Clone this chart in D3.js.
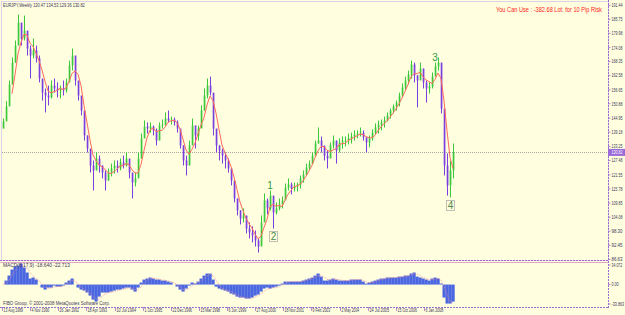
<!DOCTYPE html>
<html>
<head>
<meta charset="utf-8">
<script src="https://cdn.jsdelivr.net/npm/d3@7.9.0/dist/d3.min.js"></script>
<style>
  html, body { margin: 0; padding: 0; background: #ffffe0; }
  svg { display: block; font-family: "Liberation Sans", Arial, sans-serif; }
</style>
</head>
<body>
<svg id="chart" width="625" height="315"></svg>
<script>
// EURJPY weekly (one entry ~ every 7 weeks)
const highs = [144.8,152.0,160.5,170.0,177.0,187.7,183.2,187.3,179.1,174.9,
  177.8,174.9,170.8,160.5,157.2,158.4,160.5,161.3,159.7,158.4,
  160.5,161.3,168.7,173.7,166.7,158.4,153.1,146.1,137.8,131.6,
  127.5,130.8,129.5,125.4,123.4,124.2,126.2,127.5,127.5,128.3,
  129.5,130.8,127.5,121.3,122.5,130.8,138.6,144.0,143.2,143.2,
  141.9,140.7,143.2,144.4,147.3,148.1,145.6,145.2,144.0,139.0,
  133.7,129.5,135.7,144.8,141.9,141.9,150.2,157.2,161.3,162.1,
  150.2,137.8,133.7,132.4,130.8,128.3,124.2,118.0,111.8,106.9,
  107.7,103.5,101.9,100.3,98.6,95.3,104.8,113.9,111.8,115.1,
  108.9,110.2,111.8,112.6,118.0,120.1,118.4,118.4,118.4,121.3,
  123.4,126.2,127.5,130.8,135.7,141.1,137.4,133.7,131.6,134.9,
  137.8,135.7,136.6,137.4,137.4,138.6,139.0,139.9,139.9,141.1,
  139.9,137.0,137.8,140.3,142.8,144.0,144.4,145.6,147.3,148.9,
  150.6,152.2,155.5,159.3,162.1,164.6,168.7,167.9,162.6,167.9,
  165.4,160.5,159.7,163.8,167.9,170.0,166.3,148.1,130.4,127.5,
  134.5];
const lows = [140.7,144.8,152.2,161.3,167.9,177.0,174.9,177.0,170.8,161.3,
  169.6,167.9,159.7,152.2,147.3,150.2,153.1,155.5,153.5,153.1,
  154.3,155.5,160.5,164.6,158.4,152.2,146.1,135.7,130.8,122.5,
  115.1,123.4,122.5,120.1,115.1,119.2,120.9,122.1,122.5,123.4,
  124.2,125.0,120.1,111.8,116.8,122.5,130.8,137.8,138.6,139.0,
  137.8,133.7,139.0,140.7,141.9,143.2,142.3,141.9,139.0,132.4,
  125.4,121.3,128.3,135.7,132.4,135.7,141.9,148.1,153.1,154.3,
  137.8,130.8,127.5,126.2,124.2,122.5,117.2,110.2,104.8,101.1,
  101.9,97.4,95.3,93.7,92.0,89.5,93.7,104.8,105.2,106.9,
  99.4,105.2,106.9,107.7,111.8,115.1,113.5,114.7,114.7,115.9,
  118.4,121.3,123.4,126.2,129.5,134.5,130.8,127.5,124.2,129.5,
  132.4,126.2,130.8,132.4,133.3,134.1,134.5,135.7,136.6,137.4,
  135.7,130.8,132.9,135.7,138.2,138.6,139.9,141.1,143.6,144.8,
  146.9,148.1,149.8,153.5,156.4,158.8,161.3,159.7,149.4,161.3,
  157.2,151.4,155.1,157.2,162.6,164.6,146.9,121.3,113.0,112.2,
  120.1];
const closes = [143.6,149.8,158.8,167.9,174.9,184.4,177.8,181.1,173.7,170.8,
  172.9,169.6,161.3,155.5,154.3,153.5,158.4,157.2,156.4,157.2,
  156.4,159.7,166.7,170.8,160.5,154.3,148.1,137.8,132.4,125.4,
  123.4,128.3,125.4,122.5,119.2,122.5,124.2,125.4,124.2,126.7,
  125.4,128.3,122.5,118.4,120.1,128.3,136.6,141.5,140.7,141.5,
  139.9,135.7,141.9,142.3,144.8,144.0,144.4,143.2,140.7,133.7,
  127.5,125.4,133.7,141.9,137.8,140.7,148.1,154.3,158.4,155.5,
  140.7,133.7,131.6,129.5,127.5,124.2,119.2,111.8,106.9,103.5,
  104.8,99.4,97.8,96.5,94.5,92.0,101.9,111.0,107.7,113.0,
  106.0,107.7,109.3,111.0,116.3,117.6,115.9,116.8,117.6,120.1,
  121.7,124.6,126.2,129.5,134.5,135.7,133.3,129.5,128.3,133.7,
  135.7,131.6,134.9,135.7,135.7,136.6,137.4,138.2,138.6,139.0,
  137.0,134.9,136.6,139.0,141.1,142.3,143.2,144.0,146.1,148.1,
  149.8,151.4,154.3,157.6,160.5,163.0,167.1,162.6,160.5,165.4,
  159.7,157.2,158.0,162.1,166.3,167.9,148.9,125.4,117.2,123.4,
  130.82];
const macdValues = [0,6.3,14.2,23.7,28.4,30.0,33.2,26.9,19.0,9.5,
  11.1,7.9,0,-4.7,-7.9,-4.7,-4.7,-1.6,-3.2,-3.2,
  -1.6,3.2,6.3,9.5,0,-4.7,-7.9,-9.5,-12.6,-17.4,
  -23.7,-26.9,-19.0,-12.6,-12.6,-12.6,-11.1,-9.5,-7.9,-7.9,
  -6.3,-4.7,-4.7,-7.9,-11.1,-4.7,3.2,7.9,9.5,11.1,
  9.5,7.9,7.9,6.3,6.3,4.7,3.2,0,-3.2,-7.9,
  -11.1,-6.3,-1.6,3.2,1.6,4.7,9.5,14.2,17.4,17.4,
  7.9,-3.2,-6.3,-7.9,-9.5,-11.1,-14.2,-15.8,-19.0,-20.5,
  -20.5,-22.1,-22.1,-20.5,-17.4,-15.8,-11.1,-6.3,-4.7,-6.3,
  -4.7,-3.2,-1.6,1.6,4.7,4.7,4.7,4.7,4.7,4.7,
  6.3,7.9,9.5,11.1,14.2,17.4,12.6,6.3,6.3,7.9,
  9.5,7.9,6.3,6.3,6.3,6.3,7.9,7.9,7.9,7.9,
  4.7,1.6,3.2,4.7,6.3,7.9,9.5,9.5,11.1,11.1,
  11.1,11.1,12.6,12.6,14.2,14.2,17.4,19.0,12.6,11.1,
  9.5,7.9,6.3,9.5,11.1,9.5,1.6,-20.5,-30.0,-30.0,
  -26.9];

const priceTicks = [191.44,185.75,179.98,174.08,168.35,162.58,156.65,150.88,144.95,139.18,
  133.25,127.48,121.55,115.78,109.85,104.08,98.30,92.45,86.63];
const macdTicks = [34.072, 0, -33.863];
const dateTicks = ["1989-08-13","1990-11-04","1992-01-26","1993-04-18","1994-07-10","1995-10-01",
  "1996-12-22","1998-03-15","1999-06-06","2000-08-27","2001-11-18","2003-02-09","2004-05-02",
  "2005-07-24","2006-10-15","2008-01-06"];
const lastPrice = 130.82;
const waveNames = ["1", "2", "3", "4"];
const waveBars = [89, 90, 144, 149];
const waveBoxed = [false, true, false, true];

const svg = d3.select('#chart');
const purple = '#9b6fd0';
const textCol = '#3c3458';

const x = d3.scaleLinear().domain([0, closes.length - 1]).range([3, 453]);
const y = d3.scaleLinear().domain([86.63, 191.44]).range([259.5, 5.5]);
const yM = d3.scaleLinear().domain([-33.863, 34.072]).range([306, 263]);
const xDate = d3.scaleTime().domain([new Date(1989, 7, 13), new Date(2008, 0, 6)]).range([3, 425]);
const parse = d3.timeParse('%Y-%m-%d');
const fmt = d3.timeFormat('%-d %b %Y');

// small squeezed text: squeeze horizontally so it takes 'width' pixels
function tinyText(parent, str, tx, ty, width, size, color) {
  const t = parent.append('text').attr('font-size', size).attr('fill', color)
    .attr('dy', '0.35em').text(str);
  const len = t.node().getComputedTextLength();
  t.attr('transform', `translate(${tx},${ty}) scale(${width / len},1)`);
  return t;
}

svg.append('rect').attr('width', 625).attr('height', 315).attr('fill', '#ffffe0');

// window frames
svg.append('rect').attr('x', 1.5).attr('y', 1.5).attr('width', 607).attr('height', 259)
  .attr('fill', 'none').attr('stroke', '#dcd0ea');
svg.append('line').attr('x1', 0).attr('x2', 609).attr('y1', 260.5).attr('y2', 260.5)
  .attr('stroke', purple).attr('stroke-dasharray', '2,1');
svg.append('line').attr('x1', 0).attr('x2', 609).attr('y1', 262.5).attr('y2', 262.5)
  .attr('stroke', '#e0a8c8');
svg.append('line').attr('x1', 0).attr('x2', 609).attr('y1', 307.5).attr('y2', 307.5)
  .attr('stroke', purple).attr('stroke-dasharray', '2,1');
svg.append('line').attr('x1', 608.5).attr('x2', 608.5).attr('y1', 0).attr('y2', 308)
  .attr('stroke', purple).attr('stroke-dasharray', '2,1');

// current price line
svg.append('line').attr('x1', 2).attr('x2', 608).attr('y1', Math.round(y(lastPrice)) + 0.5)
  .attr('y2', Math.round(y(lastPrice)) + 0.5)
  .attr('stroke', '#a8a8a0').attr('stroke-dasharray', '1,1');

// candles
const bars = closes.map((c, i) => ({
  i, c, h: highs[i], l: lows[i], o: i === 0 ? lows[0] : closes[i - 1]
}));
const upCol = '#3cc83c', downCol = '#7b3fe0';
const gBars = svg.append('g');
gBars.selectAll('line').data(bars).join('line')
  .attr('x1', d => x(d.i) + 0.5).attr('x2', d => x(d.i) + 0.5)
  .attr('y1', d => y(d.h)).attr('y2', d => y(d.l))
  .attr('stroke', d => d.c >= d.o ? upCol : downCol).attr('stroke-width', 1);
gBars.selectAll('rect').data(bars).join('rect')
  .attr('x', d => x(d.i) - 0.3).attr('width', 1.7)
  .attr('y', d => y(Math.max(d.o, d.c)))
  .attr('height', d => Math.max(1, Math.abs(y(d.o) - y(d.c))))
  .attr('fill', d => d.c >= d.o ? upCol : downCol);

// moving average of closes
const period = 4;
const ma = closes.map((c, i) => i < period - 1 ? null : d3.mean(closes.slice(i - period + 1, i + 1)));
svg.append('path')
  .attr('d', d3.line().defined(d => d != null).x((d, i) => x(i)).y(d => y(d))(ma))
  .attr('fill', 'none').attr('stroke', '#ff6a5a').attr('stroke-width', 1);

// wave labels
waveNames.forEach((name, k) => {
  const b = waveBars[k];
  const cx = x(b);
  if (waveBoxed[k]) {
    const top = y(lows[b]) + 3;
    svg.append('rect').attr('x', cx - 3.5).attr('y', top).attr('width', 8).attr('height', 10)
      .attr('fill', '#ffffe0').attr('stroke', '#b0b0a8').attr('stroke-width', 0.8);
    svg.append('text').attr('x', cx + 0.5).attr('y', top + 8.5).attr('text-anchor', 'middle')
      .attr('font-size', 10).attr('fill', '#4a8a4a').text(name);
  } else {
    svg.append('text').attr('x', cx).attr('y', y(highs[b]) - 2).attr('text-anchor', 'middle')
      .attr('font-size', 10).attr('fill', '#2f9a3f').text(name);
  }
});

// MACD histogram + signal
const yZero = yM(0);
svg.append('g').selectAll('rect').data(macdValues).join('rect')
  .attr('x', (d, i) => x(i) - 1.5).attr('width', 3.2)
  .attr('y', d => Math.min(yM(d), yZero)).attr('height', d => Math.abs(yM(d) - yZero))
  .attr('fill', '#4a66e0');
const signal = macdValues.map((v, i) => d3.mean(macdValues.slice(Math.max(0, i - 2), i + 1)));
svg.append('path')
  .attr('d', d3.line().x((d, i) => x(i)).y(d => yM(d))(signal))
  .attr('fill', 'none').attr('stroke', '#f08aa0').attr('stroke-width', 0.8)
  .attr('stroke-dasharray', '1,1');

// right price axis
const gAx = svg.append('g');
priceTicks.forEach(v => {
  const ty = y(v);
  gAx.append('line').attr('x1', 608).attr('x2', 610.5).attr('y1', ty).attr('y2', ty)
    .attr('stroke', purple).attr('stroke-width', 0.8);
  tinyText(gAx, v.toFixed(2), 611.5, ty, 11, 5.5, textCol);
});
macdTicks.forEach((v, k) => {
  const ty = yM(v) + (k === 0 ? 2 : k === 2 ? -2 : 0);
  gAx.append('line').attr('x1', 608).attr('x2', 610.5).attr('y1', ty).attr('y2', ty)
    .attr('stroke', purple).attr('stroke-width', 0.8);
  const s = v === 0 ? '0.00' : v.toFixed(3);
  tinyText(gAx, s, 611.5, ty, s.length * 1.8, 5.5, textCol);
});
// last price marker
const ly = y(lastPrice);
svg.append('rect').attr('x', 608).attr('y', ly - 3.5).attr('width', 17).attr('height', 7)
  .attr('fill', '#9a6ad8');
tinyText(svg, lastPrice.toFixed(2), 611.5, ly, 11, 5.5, '#ffffff');

// date axis
const gDate = svg.append('g');
dateTicks.forEach(s => {
  const d = parse(s);
  const tx = Math.round(xDate(d)) + 0.5;
  gDate.append('line').attr('x1', tx - 1).attr('x2', tx - 1).attr('y1', 307).attr('y2', 311)
    .attr('stroke', purple).attr('stroke-width', 0.8);
  const label = fmt(d);
  tinyText(gDate, label, tx, 310, label.length * 1.78, 5, textCol);
});

// texts
tinyText(svg, 'EURJPY,Weekly  130.47 134.53 129.36 130.82', 3, 5, 82, 5.5, textCol);
tinyText(svg, 'You Can Use : -382.68 Lot. for 10 Pip Risk', 496, 9.5, 106, 6.5, '#ff2020');
tinyText(svg, 'MACD(8,17,9) -18.640 -22.713', 3, 265, 67, 5.5, textCol);
tinyText(svg, 'FIBO Group, \u00a9 2001-2008 MetaQuotes Software Corp.', 3, 303, 107, 5.5, textCol);
</script>
</body>
</html>
